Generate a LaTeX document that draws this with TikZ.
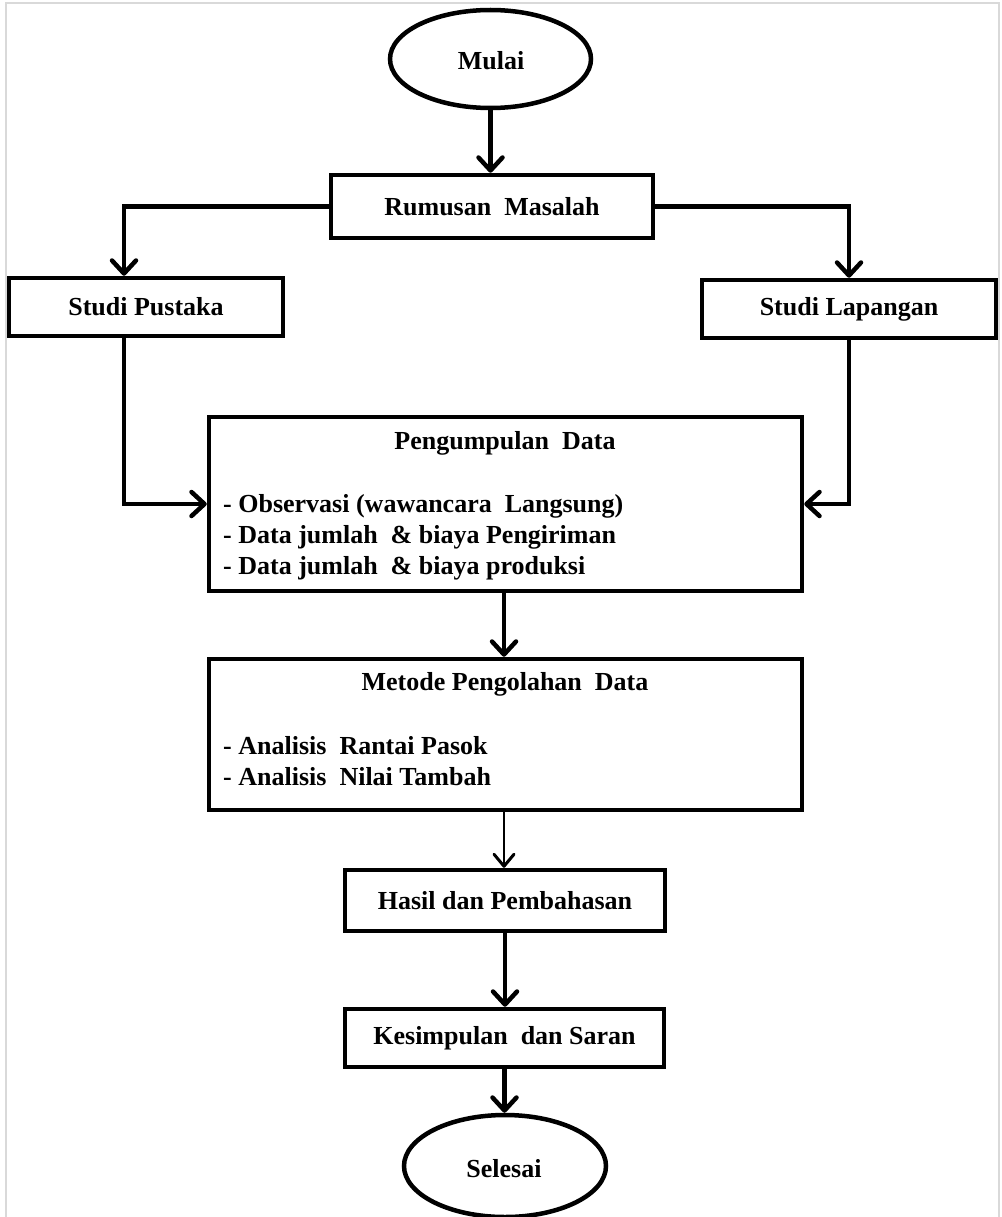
\documentclass[tikz,border=0pt]{standalone}
\usepackage{fontspec}
\setmainfont{Liberation Serif}
\usetikzlibrary{arrows.meta,shapes.geometric,calc}
\newcommand\flowfont{\fontsize{26}{31}\selectfont\bfseries}
\begin{document}
\begin{tikzpicture}[x=1pt,y=-1pt,
  box/.style={draw, line width=4.5pt, rectangle, inner sep=0pt, font=\flowfont},
  term/.style={draw, line width=4.5pt, ellipse, inner sep=0pt, font=\flowfont},
  txt/.style={inner sep=0pt, font=\flowfont},
  arr/.style={line width=4.5pt, -{Straight Barb[length=13pt,width=24pt,line width=4.5pt 0,round]}},
  thinarr/.style={line width=2pt, -{Straight Barb[length=12pt,width=20pt,line width=3pt 0,round]}},
  frame/.style={draw=black!15, line width=1.5pt}]
\useasboundingbox (0,0) rectangle (1001,1217);
\path[frame] (6,1217) -- (6,3) -- (999,3) -- (999,1217);

\node[term, minimum width=201pt, minimum height=98pt] (mulai) at (490.5,59) {};
\node[txt, anchor=base] (mulaiT) at (491,70) {Mulai};
\node[box, minimum width=322pt, minimum height=63pt] (rumusan) at (492,206.5) {Rumusan\ \ Masalah};
\node[box, minimum width=274pt, minimum height=58pt] (pustaka) at (146,307) {Studi Pustaka};
\node[box, minimum width=294pt, minimum height=58pt] (lapangan) at (849,309) {Studi Lapangan};

\node[box, minimum width=593pt, minimum height=174pt] (kumpul) at (505.5,504) {};
\node[txt, anchor=base] (kumpulT) at (505,449) {Pengumpulan\ \ Data};
\node[txt, anchor=base west] (k1) at (223,512) {- Observasi (wawancara\ \ Langsung)};
\node[txt, anchor=base west] (k2) at (223,543) {- Data jumlah\ \ \& biaya Pengiriman};
\node[txt, anchor=base west] (k3) at (223,574) {- Data jumlah\ \ \& biaya produksi};

\node[box, minimum width=593pt, minimum height=151pt] (metode) at (505.5,734.5) {};
\node[txt, anchor=base] (metodeT) at (505,690) {Metode Pengolahan\ \ Data};
\node[txt, anchor=base west] (m1) at (223,754) {- Analisis\ \ Rantai Pasok};
\node[txt, anchor=base west] (m2) at (223,785) {- Analisis\ \ Nilai Tambah};

\node[box, minimum width=320pt, minimum height=61pt] (hasil) at (505,900.5) {Hasil dan Pembahasan};
\node[box, minimum width=319pt, minimum height=58pt] (simpul) at (504.5,1038) {Kesimpulan\ \ dan Saran};
\node[term, minimum width=202pt, minimum height=102pt] (selesai) at (505,1166) {};
\node[txt, anchor=base] (selesaiT) at (504,1177) {Selesai};

\draw[arr] (mulai.south) -- (mulai.south |- rumusan.north);
\draw[arr] (rumusan.west) -| ([xshift=-22pt]pustaka.north);
\draw[arr] (rumusan.east) -| (lapangan.north);
\draw[arr] ([xshift=-22pt]pustaka.south) |- (kumpul.west);
\draw[arr] (lapangan.south) |- (kumpul.east);
\draw[arr] ([xshift=-1.5pt]kumpul.south) -- ([xshift=-1.5pt]kumpul.south |- metode.north);
\draw[thinarr] ([xshift=-1.5pt]metode.south) -- ([xshift=-1.5pt]metode.south |- hasil.north);
\draw[arr] (hasil.south) -- (hasil.south |- simpul.north);
\draw[arr] (simpul.south) -- (simpul.south |- selesai.north);
\end{tikzpicture}
\end{document}
